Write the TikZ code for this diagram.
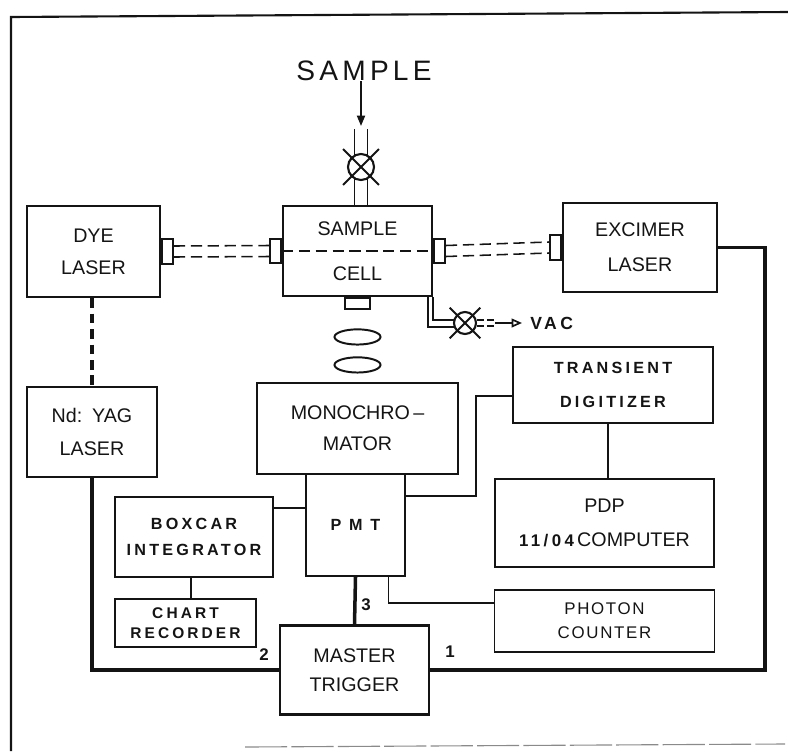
\documentclass[tikz,border=0pt]{standalone}
\usepackage{fontspec}
\setmainfont{Liberation Sans}
\newfontfamily\widefont[LetterSpace=20]{Liberation Sans}
\newfontfamily\airyfont[LetterSpace=10]{Liberation Sans}
\newfontfamily\titlefont[LetterSpace=15]{Liberation Sans}
\usetikzlibrary{arrows.meta,positioning,calc,shapes.geometric}
\definecolor{Ink}{HTML}{141414}
\definecolor{Scan}{HTML}{8A8A8A}
\newcommand{\mainsize}[1]{\fontsize{14}{#1}\selectfont}
\tikzset{
  unitbox/.style={draw=Ink,line width=1.6pt,align=center,inner sep=0pt,text=Ink,font=\mainsize{23}},
  boxsize/.style 2 args={minimum width=#1*0.025cm,minimum height=#2*0.025cm},
  smallbox/.style={unitbox,font=\widefont\bfseries\fontsize{11.5}{18.5}\selectfont},
  port/.style={draw=Ink,fill=white,line width=1.3pt,inner sep=0pt,minimum width=0.275cm,minimum height=0.62cm},
  valve/.style={draw=Ink,circle,line width=1.5pt,inner sep=0pt},
  lens/.style={draw=Ink,ellipse,line width=1.4pt,inner sep=0pt,minimum width=1.15cm,minimum height=0.38cm},
  trig/.style={draw=Ink,line width=2.5pt},
  wire/.style={draw=Ink,line width=1.1pt},
  beam/.style={draw=Ink,line width=1.1pt,dash pattern=on 8pt off 4pt},
  tube/.style={draw=Ink,line width=1.3pt},
  feed/.style={draw=Ink,line width=1.4pt,-{Triangle[length=2.6mm,width=2mm]}},
  vacarrow/.style={draw=Ink,line width=1.2pt,-{Triangle[open,length=2.6mm,width=2.2mm]}},
  outline/.style={draw=Ink,line width=1.5pt},
  titlelbl/.style={text=Ink,inner sep=0pt,font=\titlefont\fontsize{20}{20}\selectfont},
  numlbl/.style={text=Ink,inner sep=0pt,font=\bfseries\fontsize{12}{12}\selectfont}
}

\begin{document}
\begin{tikzpicture}[x=0.025cm,y=-0.025cm]
  \useasboundingbox (0,0) rectangle (788,751);
  % frame of the scanned figure
  \draw[outline] (788,12) -- (11,17) -- (11,751);
  \draw[draw=Scan,line width=0.8pt,dash pattern=on 30pt off 3pt] (245,747) -- (785,744);

  % sample inlet
  \node[titlelbl] (samplelbl) at (364,71) {SAMPLE};
  \coordinate (inlet) at (361,126);
  \node[valve,minimum size=0.65cm] (tv) at (361,167) {};

  % boxes
  \node[unitbox,boxsize={133}{91}] (dye) at (93.5,251.5) {DYE\\LASER};
  \node[unitbox,boxsize={149}{90},font=\mainsize{32}] (cell) at (357.5,251) {SAMPLE\\CELL};
  \node[unitbox,boxsize={154}{89},font=\mainsize{25}] (excimer) at (640,247.5) {EXCIMER\\LASER};
  \node[unitbox,boxsize={130}{90},font=\mainsize{24}] (yag) at (92,432) {Nd:\hspace{0.5em}YAG\\LASER};
  \node[unitbox,boxsize={201}{91},font=\mainsize{22}] (mono) at (357.5,428.5) {MONOCHRO\,–\\MATOR};
  \node[smallbox,boxsize={99}{102}] (pmt) at (355.5,525) {P M T};
  \node[smallbox,boxsize={158}{80}] (boxcar) at (194,537) {BOXCAR\\INTEGRATOR};
  \node[smallbox,boxsize={141}{48},font=\widefont\bfseries\fontsize{11}{14}\selectfont] (chart) at (185.5,623) {CHART\\RECORDER};
  \node[unitbox,boxsize={149}{89},font=\mainsize{21}] (master) at (354.5,670) {MASTER\\TRIGGER};
  \node[smallbox,boxsize={200}{76},font=\widefont\bfseries\fontsize{11.5}{24}\selectfont] (digit) at (613,385) {TRANSIENT\\DIGITIZER};
  \node[unitbox,boxsize={219}{88},font=\mainsize{24}] (pdp) at (604.5,523) {PDP\\{\widefont\bfseries\fontsize{12}{12}\selectfont 11/04}\,COMPUTER};
  \node[unitbox,boxsize={220}{62},line width=1pt,font=\airyfont\fontsize{12}{17}\selectfont] (photon) at (604.5,621) {PHOTON\\COUNTER};

  % windows and optics
  \node[port,anchor=west] (dyep) at (dye.east) {};
  \node[port,anchor=east] (cellpl) at (cell.west) {};
  \node[port,anchor=west] (cellpr) at (cell.east) {};
  \node[port,anchor=east] (excp) at (excimer.west) {};
  \node[port,minimum width=0.625cm,minimum height=0.275cm,anchor=north] (cellport) at (cell.south) {};
  \node[lens,below=0.46cm of cellport] (lens1) {};
  \node[lens,below=0.27cm of lens1] (lens2) {};

  % vacuum line
  \node[valve,minimum size=0.55cm] (vv) at (465,323) {};
  \node[anchor=west,inner sep=0pt,text=Ink,font=\widefont\bfseries\fontsize{12.5}{12.5}\selectfont] (vac) at (530,323) {VAC};

  % laser beams
  \foreach \dy in {-5.5,5.5} {
    \draw[beam] ($(dyep.east)+(0,\dy)$) -- ($(cellpl.west)+(0,\dy)$);
    \draw[beam] ($(cellpr.east)+(0,\dy)$) -- ($(excp.west)+(0,\dy)$);
  }
  \draw[beam] (cellpl.east) -- (cellpr.west);

  % sample feed
  \draw[feed] (samplelbl.south -| inlet) -- (inlet);
  \foreach \dx in {-6.5,6.5} {
    \draw[tube] ($(tv)+(\dx,-38)$) -- ($(tv)+(\dx,-11)$);
    \draw[tube] ($(tv)+(\dx,11)$) -- ($(tv)+(\dx,38)$);
  }
  \draw[tube] ($(tv.north west)!-0.4!(tv.south east)$) -- ($(tv.south east)!-0.4!(tv.north west)$);
  \draw[tube] ($(tv.north east)!-0.4!(tv.south west)$) -- ($(tv.south west)!-0.4!(tv.north east)$);

  \draw[tube] ($(cell.south east)+(-5,0)$) |- ($(vv.west)+(1,4)$);
  \draw[tube] (cell.south east) |- ($(vv.west)+(1,-3)$);
  \draw[tube] ($(vv.north west)!-0.4!(vv.south east)$) -- ($(vv.south east)!-0.4!(vv.north west)$);
  \draw[tube] ($(vv.north east)!-0.4!(vv.south west)$) -- ($(vv.south west)!-0.4!(vv.north east)$);
  \draw[tube,dash pattern=on 5pt off 2pt] ($(vv.east)+(0,-3)$) -- ++(18,0);
  \draw[tube,dash pattern=on 5pt off 2pt] ($(vv.east)+(0,3)$) -- ++(18,0);
  \draw[vacarrow] ($(vv.east)+(18,0)$) -- ($(vac.west)+(-8,0)$);

  % signal lines
  \draw[trig,dash pattern=on 7pt off 4pt] (yag.north |- dye.south) -- (yag.north);
  \draw[trig] (yag.south) |- (master.west);
  \draw[trig] (excimer.east) -- ++(47,0) |- (master.east);
  \draw[trig] (pmt.south) -- (master.north);
  \draw[wire] ($(boxcar.east)+(0,-29)$) -- ($(pmt.west)+(0,-17)$);
  \draw[wire] ($(boxcar.south)+(-3,0)$) -- ($(chart.north)+(5.5,0)$);
  \draw[wire] ($(pmt.east)+(0,-29)$) -| ($(digit.west)+(-36,11)$) -- ($(digit.west)+(0,11)$);
  \draw[wire] ($(digit.south)+(-5,0)$) -- ($(pdp.north)+(3.5,0)$);
  \draw[wire] ($(pmt.south)+(33,0)$) |- ($(photon.west)+(0,-18)$);

  \node[numlbl] (n2) at (264,655) {2};
  \node[numlbl] (n1) at (450,652) {1};
  \node[numlbl] (n3) at (366,605) {3};
\end{tikzpicture}
\end{document}
